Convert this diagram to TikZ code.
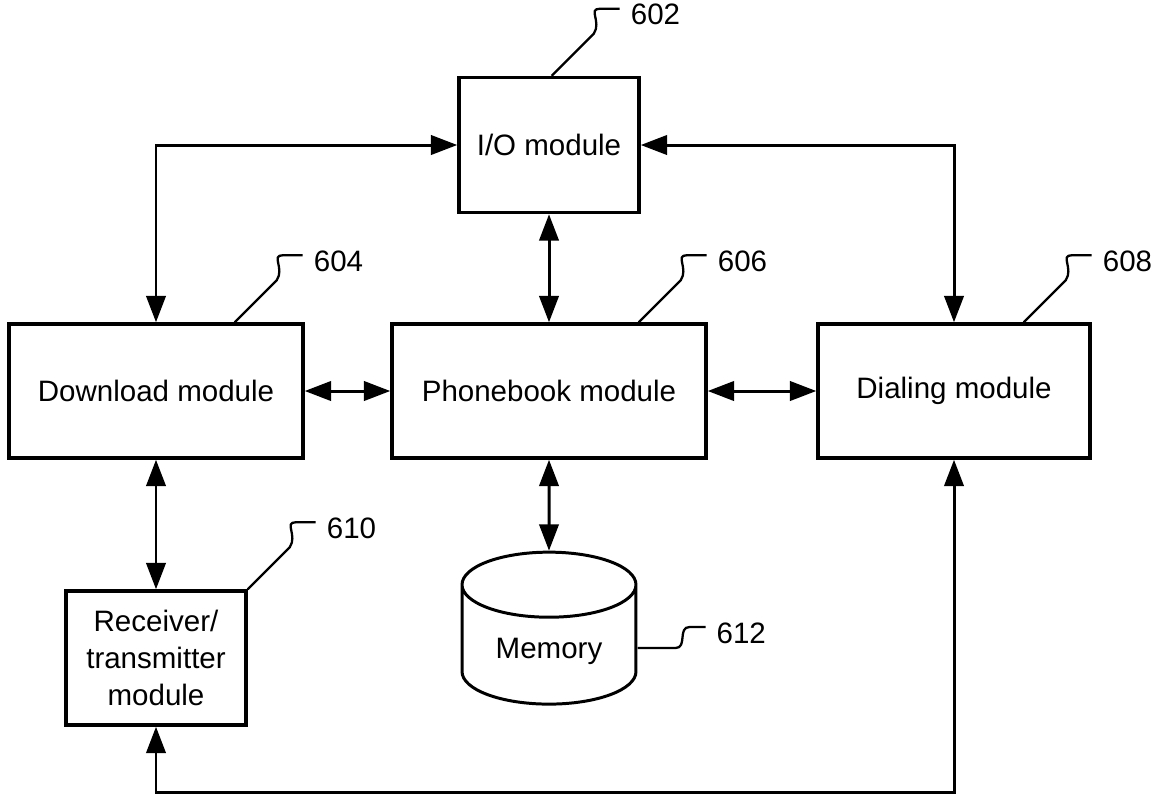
\documentclass[tikz,border=0pt]{standalone}
\usepackage{fontspec}
\setmainfont{Liberation Sans}
\usetikzlibrary{arrows.meta,shapes.geometric}

\begin{document}
\begin{tikzpicture}[x=0.02cm,y=-0.02cm]
        \tikzset{module/.style={draw,line width=2pt,minimum height=2.68cm,align=center,
                font=\fontsize{16.8}{21}\selectfont},
            link/.style={{Triangle[length=15pt,width=11pt]}-{Triangle[length=15pt,width=11pt]},line width=1.7pt},
            leader/.style={line width=1.3pt},
            refnum/.style={anchor=west,inner sep=0pt,xshift=0.2cm,yshift=-0.12cm,
                font=\fontsize{16.8}{21}\selectfont}}
        \useasboundingbox (0,0) rectangle (1159,796);
        \node[module,minimum width=3.6cm,minimum height=2.7cm] (io) at (549,145) {I/O module};
        \node[module,minimum width=5.88cm] (download) at (156,391) {Download module};
        \node[module,minimum width=6.28cm] (phonebook) at (549,391) {Phonebook module};
        \node[module,minimum width=5.44cm] (dialing) at (954,391) {Dialing module};
        \node[module,minimum width=3.6cm] (receiver) at (156,658) {Receiver/\\transmitter\\module};
        \node[cylinder,shape border rotate=90,draw,line width=1.7pt,shape aspect=0.55,
            minimum width=3.48cm,minimum height=3.04cm,font=\fontsize{16.8}{21}\selectfont]
            (memory) at (549,651) {Memory};
        % connections
        \draw[link] (io.west) -| (download.north);
        \draw[link] (io.east) -| (dialing.north);
        \draw[link] (io) -- (phonebook);
        \draw[link] (download) -- (phonebook);
        \draw[link] (phonebook) -- (dialing);
        \draw[link] (download) -- (receiver);
        \draw[link] (phonebook) -- (memory);
        \draw[link] (dialing.south) -- ++(0,333) -| (receiver.south);
        % reference numerals
        \foreach \part/\dx/\num in {io/89/602,download/70/604,phonebook/69/606,dialing/68/608,receiver/0/610}
            \draw[leader] (\part.north east) ++(-\dx,0) -- ++(42,-42)
                .. controls +(8,-12) and +(-12,0) .. ++(6,-25) -- ++(20,0) node[refnum]{\num};
        \draw[leader] (memory.east |- 0,648) -- ++(38,0)
            .. controls +(12,0) and +(-12,0) .. ++(14,-21) -- ++(16,0) node[refnum]{612};
\end{tikzpicture}
\end{document}
